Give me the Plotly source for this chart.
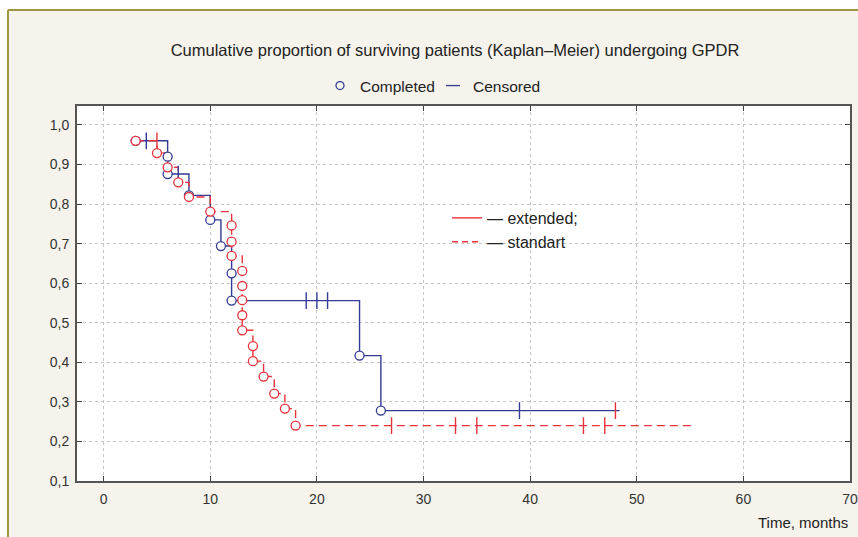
import plotly.graph_objects as go

# ---- data ----
ext_event_t = [3, 6, 6, 8, 10, 11, 12, 12, 24, 26]
ext_event_s = [0.96, 0.92, 0.876, 0.822, 0.76, 0.694, 0.625, 0.556, 0.417, 0.278]
ext_cens_t = [4, 7, 19, 20, 21, 39, 48]
ext_cens_s = [0.96, 0.876, 0.556, 0.556, 0.556, 0.278, 0.278]
ext_last_t = 48.4

std_event_t = [3, 5, 6, 7, 8, 10, 12, 12, 12, 13, 13, 13, 13, 13, 14, 14, 15, 16, 17, 18]
std_event_s = [0.96, 0.929, 0.893, 0.855, 0.818, 0.781, 0.746, 0.705, 0.669,
               0.631, 0.593, 0.557, 0.519, 0.481, 0.441, 0.403, 0.364, 0.321, 0.283, 0.240]
std_cens_t = [5, 27, 33, 35, 45, 47]
std_cens_s = [0.96, 0.24, 0.24, 0.24, 0.24, 0.24]
std_last_t = 55.5

x_ticks = [0, 10, 20, 30, 40, 50, 60, 70]
y_ticks = [0.1, 0.2, 0.3, 0.4, 0.5, 0.6, 0.7, 0.8, 0.9, 1.0]

BLUE = "#343b94"
RED = "#e8323c"
W, H = 858, 537
L, R, T, B = 77, 850, 106, 481

def px_x(p):
    return (p - L) / (R - L)

def px_y(p):
    return (B - p) / (B - T)

fig = go.Figure()

# step lines
fig.add_trace(go.Scatter(
    x=ext_event_t + [ext_last_t], y=ext_event_s + [ext_event_s[-1]],
    mode="lines", line=dict(color=BLUE, width=1.4, shape="hv"),
    showlegend=False, hoverinfo="skip"))
fig.add_trace(go.Scatter(
    x=std_event_t + [std_last_t], y=std_event_s + [std_event_s[-1]],
    mode="lines", line=dict(color=RED, width=1.4, shape="hv", dash="8px,5px"),
    showlegend=False, hoverinfo="skip"))

# censored ticks
cens_colors = [BLUE] * (len(ext_cens_t) - 1) + [RED]
fig.add_trace(go.Scatter(
    x=ext_cens_t, y=ext_cens_s, mode="markers",
    marker=dict(symbol="line-ns", size=12, line=dict(color=cens_colors, width=1.4)),
    showlegend=False))
fig.add_trace(go.Scatter(
    x=std_cens_t, y=std_cens_s, mode="markers",
    marker=dict(symbol="line-ns", size=12, line=dict(color=RED, width=1.4)),
    showlegend=False))

# completed (event) circles
fig.add_trace(go.Scatter(
    x=ext_event_t, y=ext_event_s, mode="markers",
    marker=dict(symbol="circle", size=9, color="white", line=dict(color=BLUE, width=1.3)),
    showlegend=False))
fig.add_trace(go.Scatter(
    x=std_event_t, y=std_event_s, mode="markers",
    marker=dict(symbol="circle", size=9, color="white", line=dict(color=RED, width=1.3)),
    showlegend=False))

# legend entries (top)
fig.add_trace(go.Scatter(
    x=[None], y=[None], mode="markers", name="Completed",
    marker=dict(symbol="circle-open", size=8, color=BLUE, line=dict(width=1.3)),
    legend="legend"))
fig.add_trace(go.Scatter(
    x=[None], y=[None], mode="markers", name="Censored",
    marker=dict(symbol="line-ew", size=10, color=BLUE, line=dict(color=BLUE, width=1.3)),
    legend="legend"))
# legend entries (inside)
fig.add_trace(go.Scatter(
    x=[None], y=[None], mode="lines", name="— extended;",
    line=dict(color=RED, width=1.4), legend="legend2"))
fig.add_trace(go.Scatter(
    x=[None], y=[None], mode="lines", name="— standart",
    line=dict(color=RED, width=1.4, dash="6px,4px"), legend="legend2"))

axis_common = dict(
    showline=True, linecolor="#555555", linewidth=2, mirror="allticks",
    ticks="inside", ticklen=5, tickcolor="#444444", tickwidth=1,
    showgrid=True, gridcolor="#c4c4c4", griddash="dot", gridwidth=1,
    zeroline=False, automargin=False,
    tickfont=dict(family="Liberation Sans, Arial", size=14, color="#333333"),
)

fig.update_layout(
    width=W, height=H,
    margin=dict(l=L, r=W - R, t=T, b=H - B, pad=0, autoexpand=False),
    paper_bgcolor="#f6f3ec", plot_bgcolor="white",
    separators=", ",
    font=dict(family="Liberation Sans, Arial", size=14, color="#222222"),
    title=dict(text="Cumulative proportion of surviving patients (Kaplan–Meier) undergoing GPDR",
               x=455 / W, xanchor="center", y=1 - 50 / H, yanchor="middle",
               font=dict(size=16.5, color="#222222")),
    xaxis=dict(range=[-2.5, 70], tickvals=x_ticks, ticklabelstandoff=4, **axis_common),
    yaxis=dict(range=[0.1, 1.048], tickvals=y_ticks, tickformat=".1f",
               ticklabelstandoff=3, **axis_common),
    legend=dict(orientation="h", xref="container", yref="container",
                x=320 / W, xanchor="left", y=1 - 86 / H, yanchor="middle",
                entrywidth=68, entrywidthmode="pixels",
                bgcolor="rgba(0,0,0,0)", font=dict(size=15.5, color="#222222")),
    legend2=dict(x=px_x(447), xanchor="left", y=px_y(201), yanchor="top",
                 bgcolor="rgba(0,0,0,0)", font=dict(size=16, color="#222222"),
                 tracegroupgap=0),
    annotations=[dict(text="Time, months", xref="paper", yref="paper",
                      x=1.0, xanchor="right", y=px_y(522), yanchor="middle",
                      showarrow=False, font=dict(size=15, color="#222222"))],
    shapes=[
        dict(type="rect", xref="paper", yref="paper", layer="below",
             x0=px_x(-5), x1=px_x(W + 5), y0=px_y(9), y1=px_y(-5),
             fillcolor="white", line=dict(width=0)),
        dict(type="rect", xref="paper", yref="paper", layer="below",
             x0=px_x(-5), x1=px_x(7), y0=px_y(H + 5), y1=px_y(-5),
             fillcolor="white", line=dict(width=0)),
        dict(type="line", xref="paper", yref="paper", layer="below",
             x0=px_x(8), x1=px_x(W + 5), y0=px_y(10), y1=px_y(10),
             line=dict(color="#9e9840", width=2)),
        dict(type="line", xref="paper", yref="paper", layer="below",
             x0=px_x(8), x1=px_x(8), y0=px_y(10), y1=px_y(H + 5),
             line=dict(color="#9e9840", width=2)),
    ],
)

fig.write_html("out.html", config={"displayModeBar": False},
               post_script="document.body.style.margin='0px';document.body.style.padding='0px';")
